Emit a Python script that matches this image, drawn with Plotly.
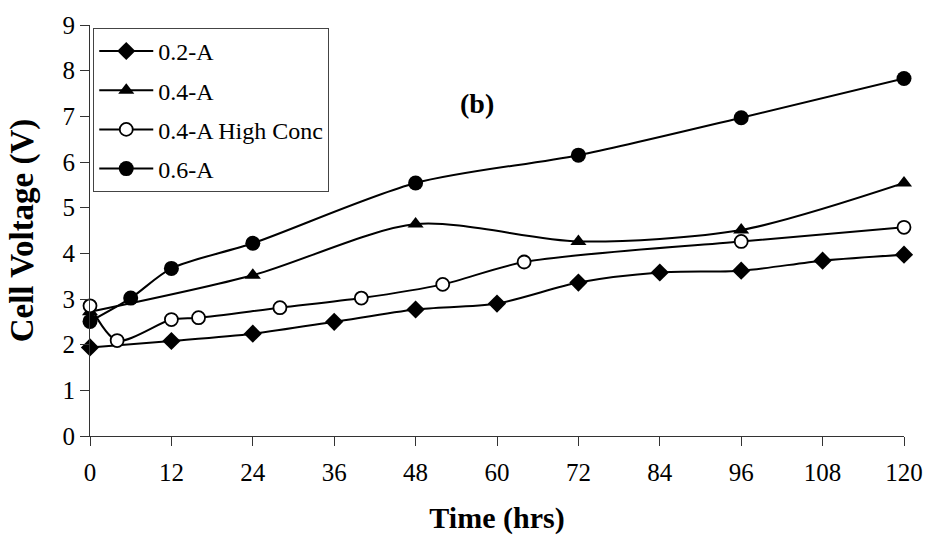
import plotly.graph_objects as go

# ---- data ----
t_02A = [0, 12, 24, 36, 48, 60, 72, 84, 96, 108, 120]
v_02A = [1.94, 2.08, 2.24, 2.50, 2.77, 2.90, 3.36, 3.58, 3.62, 3.84, 3.97]

t_04A = [0, 24, 48, 72, 96, 120]
v_04A = [2.72, 3.52, 4.64, 4.26, 4.51, 5.54]

t_04A_hc = [0, 4, 12, 16, 28, 40, 52, 64, 96, 120]
v_04A_hc = [2.85, 2.09, 2.55, 2.59, 2.81, 3.02, 3.32, 3.81, 4.26, 4.57]

t_06A = [0, 6, 12, 24, 48, 72, 96, 120]
v_06A = [2.51, 3.02, 3.67, 4.22, 5.54, 6.15, 6.97, 7.83]

names = ["0.2-A", "0.4-A", "0.4-A High Conc", "0.6-A"]
x_ticks = [0, 12, 24, 36, 48, 60, 72, 84, 96, 108, 120]
y_ticks = [0, 1, 2, 3, 4, 5, 6, 7, 8, 9]

FONT = "Liberation Serif, Times New Roman, serif"

markers = [
    dict(symbol="diamond", size=14, color="black"),
    dict(symbol="triangle-up", size=14, color="black"),
    dict(symbol="circle", size=13, color="white", line=dict(width=1.8, color="black")),
    dict(symbol="circle", size=15, color="black"),
]
series = [(t_02A, v_02A), (t_04A, v_04A), (t_04A_hc, v_04A_hc), (t_06A, v_06A)]

fig = go.Figure()
for i, ((xs, ys), nm, mk) in enumerate(zip(series, names, markers)):
    fig.add_trace(go.Scatter(
        x=xs, y=ys, name=nm, mode="lines+markers",
        line=dict(color="black", width=2, shape="spline", smoothing=0.8),
        marker=mk, legendgroup=f"g{i}", cliponaxis=False,
    ))

fig.update_layout(
    width=935, height=545,
    margin=dict(l=90, r=24, t=16, b=109),
    paper_bgcolor="white", plot_bgcolor="white",
    font=dict(family=FONT, size=24, color="black"),
    showlegend=True,
    legend=dict(
        x=0.004, y=0.993, xanchor="left", yanchor="top",
        bgcolor="white", bordercolor="#444", borderwidth=1,
        font=dict(family=FONT, size=24, color="black"),
        traceorder="grouped", tracegroupgap=5,
        itemwidth=54,
    ),
    annotations=[dict(
        x=0.475, y=0.81, xref="paper", yref="paper",
        xanchor="center", yanchor="middle",
        text="<b>(b)</b>", showarrow=False,
        font=dict(family=FONT, size=28, color="black"),
    )],
)

fig.update_xaxes(
    range=[0, 120], tickvals=x_ticks, ticktext=[str(v) for v in x_ticks],
    showgrid=False, zeroline=False,
    showline=True, linecolor="#333", linewidth=1,
    ticks="outside", ticklen=9, tickcolor="#333", tickwidth=1,
    tickfont=dict(family=FONT, size=25), ticklabelstandoff=5,
    title=dict(text="<b>Time (hrs)</b>", font=dict(family=FONT, size=30), standoff=21),
)
fig.update_yaxes(
    range=[0, 9], tickvals=y_ticks, ticktext=[str(v) for v in y_ticks],
    showgrid=False, zeroline=False,
    showline=True, linecolor="#333", linewidth=1,
    ticks="outside", ticklen=9, tickcolor="#333", tickwidth=1,
    tickfont=dict(family=FONT, size=25),
    title=dict(text="<b>Cell Voltage (V)</b>", font=dict(family=FONT, size=33), standoff=18),
)

fig.write_html("out.html")
